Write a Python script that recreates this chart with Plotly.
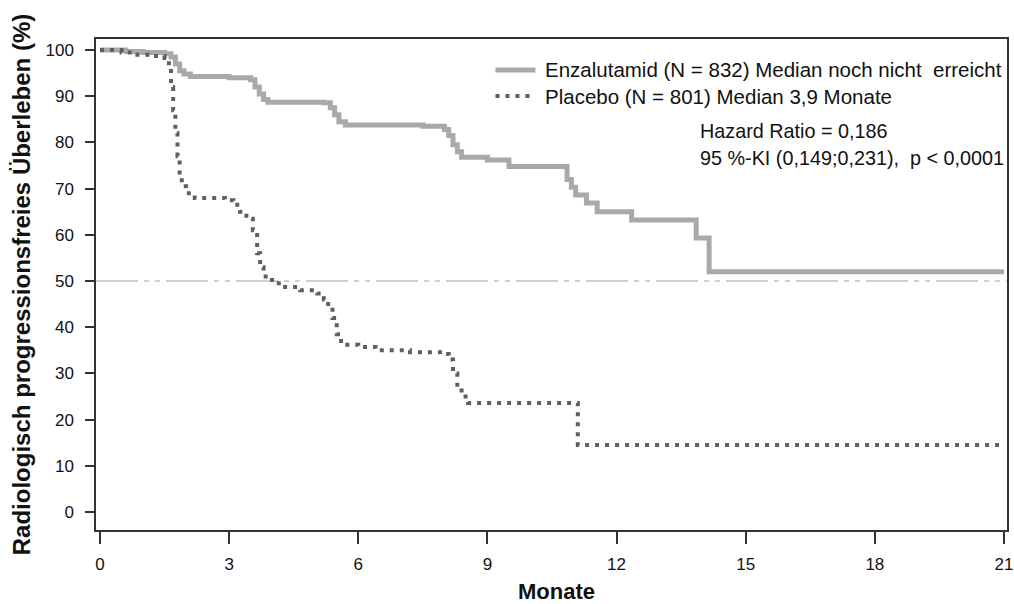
import plotly.graph_objects as go

# ---- data ----
enz_t = [0, 0.6, 1.0, 1.5, 1.65, 1.75, 1.85, 1.95, 2.1, 3.0, 3.5, 3.6, 3.7, 3.8, 3.9,
         5.2, 5.35, 5.45, 5.55, 5.7, 7.5, 8.0, 8.1, 8.2, 8.3, 8.4, 9.0, 9.5,
         10.85, 10.95, 11.05, 11.3, 11.55, 12.35, 13.85, 14.15, 21.0]
enz_s = [100, 99.7, 99.5, 99.2, 98.5, 97, 95.5, 94.8, 94.3, 94.0, 93.6, 92, 90.5, 89.3, 88.7,
         88.6, 87.5, 86, 84.5, 83.8, 83.5, 82.8, 81.5, 79.5, 78, 76.8, 76.2, 74.8,
         72, 70.3, 68.6, 66.9, 65.0, 63.2, 59.3, 52.0, 52.0]

pla_t = [0, 0.5, 0.8, 1.2, 1.5, 1.6, 1.65, 1.7, 1.75, 1.8, 1.85, 1.9, 2.0, 2.2, 2.9, 3.1,
         3.25, 3.4, 3.55, 3.65, 3.72, 3.8, 3.9, 4.05, 4.3, 4.65, 5.05, 5.2, 5.3, 5.4, 5.5,
         5.6, 6.0, 6.4, 7.2, 7.9, 8.1, 8.2, 8.3, 8.4, 8.55, 11.1, 21.0]
pla_s = [100, 99.5, 99, 98.7, 98.3, 96, 92, 87, 82, 77, 73, 70.5, 69, 68, 67.5, 66.5,
         65, 63.5, 61, 56, 53, 51, 50.2, 49.5, 48.7, 48, 47.3, 46, 44.5, 42, 38.5,
         36.2, 35.7, 35, 34.6, 34.2, 33, 30, 27, 25, 23.6, 14.5, 14.5]

x_ticks = [0, 3, 6, 9, 12, 15, 18, 21]
y_ticks = [0, 10, 20, 30, 40, 50, 60, 70, 80, 90, 100]
median_level = 50

x_title = "Monate"
y_title = "Radiologisch progressionsfreies Überleben (%)"
enz_label = "Enzalutamid (N = 832) Median noch nicht  erreicht"
pla_label = "Placebo (N = 801) Median 3,9 Monate"
hr_lines = ["Hazard Ratio = 0,186", "95 %-KI (0,149;0,231),  p < 0,0001"]

ENZ_COLOR = "#a9a9a9"
PLA_COLOR = "#5f5f5f"
FONT = "Arial, Liberation Sans, sans-serif"

fig = go.Figure()
fig.add_trace(go.Scatter(x=enz_t, y=enz_s, mode="lines", line_shape="hv",
                         line=dict(color=ENZ_COLOR, width=5), name=enz_label,
                         showlegend=False))
fig.add_trace(go.Scatter(x=pla_t, y=pla_s, mode="lines", line_shape="hv",
                         line=dict(color=PLA_COLOR, width=4, dash="4px,6px"),
                         name=pla_label, showlegend=False))

# median reference line
fig.add_shape(type="line", xref="x domain", yref="y", x0=0, x1=1,
              y0=median_level, y1=median_level,
              line=dict(color="#c0c0c0", width=1.5, dash="42px,6px,5px,6px,5px,6px"),
              layer="below")

# manual legend
leg_x0, leg_x1, txt_x = 0.4385, 0.4824, 0.4912
for yy, col, w, dash, label in [(0.9369, ENZ_COLOR, 5, "solid", enz_label),
                                (0.8839, PLA_COLOR, 4, "4px,6px", pla_label)]:
    fig.add_shape(type="line", xref="paper", yref="paper", x0=leg_x0, x1=leg_x1,
                  y0=yy, y1=yy, line=dict(color=col, width=w, dash=dash))
    fig.add_annotation(xref="paper", yref="paper", x=txt_x, y=yy, text=label,
                       showarrow=False, xanchor="left", yanchor="middle",
                       font=dict(family=FONT, size=20.5, color="#111111"))

for yy, t in zip([0.8126, 0.7576], hr_lines):
    fig.add_annotation(xref="paper", yref="paper", x=0.6604, y=yy, text=t,
                       showarrow=False, xanchor="left", yanchor="middle",
                       font=dict(family=FONT, size=19.8, color="#111111"))

# x axis title
fig.add_annotation(xref="paper", yref="paper", x=0.506, y=-0.1255, text=f"<b>{x_title}</b>",
                   showarrow=False, xanchor="center", yanchor="middle",
                   font=dict(family=FONT, size=22, color="#111111"))

fig.update_layout(
    width=1014, height=604,
    margin=dict(l=96, r=7, t=39, b=74),
    paper_bgcolor="white", plot_bgcolor="white",
    font=dict(family=FONT, color="#111111"),
    xaxis=dict(range=[-0.093, 21.07], tickvals=x_ticks, ticktext=[str(v) for v in x_ticks],
               showgrid=False, zeroline=False, showline=True, mirror=True,
               linecolor="#333333", linewidth=1.5, ticks="outside", ticklen=12,
               tickcolor="#333333", tickwidth=1.5, ticklabelstandoff=6,
               ticklabeloverflow="allow", automargin=False,
               tickfont=dict(family=FONT, size=17, color="#111111")),
    yaxis=dict(range=[-3.9, 102.4], tickvals=y_ticks, ticktext=[str(v) for v in y_ticks],
               showgrid=False, zeroline=False, showline=True, mirror=True,
               linecolor="#333333", linewidth=1.5, ticks="outside", ticklen=9,
               tickcolor="#333333", tickwidth=1.5, ticklabelstandoff=8,
               automargin=False,
               tickfont=dict(family=FONT, size=17, color="#111111"),
               title=dict(text=f"<b>{y_title}</b>", standoff=8,
                          font=dict(family=FONT, size=24, color="#111111"))),
)

fig.write_html("out.html", config={"displayModeBar": False},
               post_script="document.body.style.margin='0';document.body.style.overflow='hidden';")
